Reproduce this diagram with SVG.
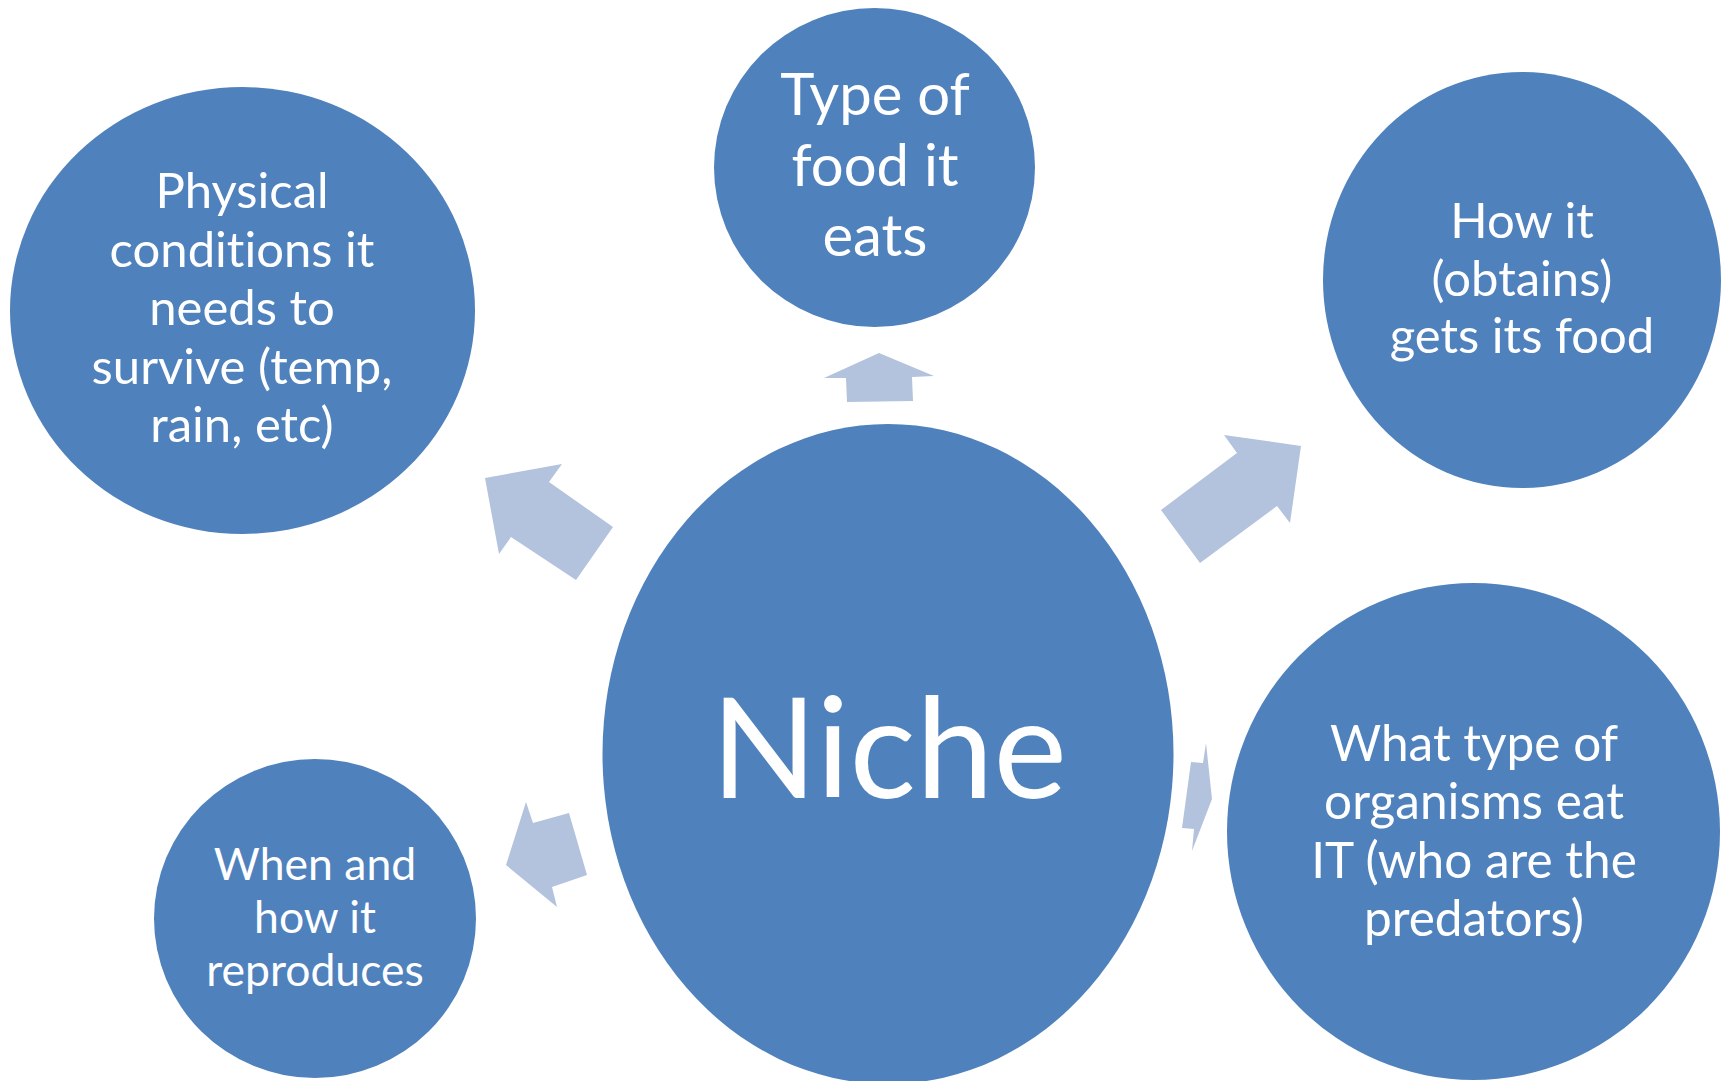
<svg xmlns="http://www.w3.org/2000/svg" width="1727" height="1081" viewBox="0 0 1727 1081">
<style>
.node{fill:#4F81BD}
.arrow{fill:#B3C2DD}
text{fill:#FFFFFF;font-family:Lato,"Noto Sans","Liberation Sans",sans-serif;text-anchor:middle;font-variant-ligatures:none;font-feature-settings:"liga" 0}
.t49{font-size:49px}
.t50{font-size:49.5px}
.t58{font-size:58px}
.t44{font-size:44.5px}
</style>
<rect width="1727" height="1081" fill="#FFFFFF"/>
<g id="connectors">
<polygon class="arrow" points="485,478 562,464 549,482 613,527 576,580 511,537 499,554"/>
<polygon class="arrow" points="879,353 934,376 912,377 913,401 847,402 846,378 824,378"/>
<polygon class="arrow" points="1301,446 1224,435 1237,453 1161,510 1200,563 1277,506 1290,523"/>
<polygon class="arrow" points="1212,799 1206,743 1203,763 1191,762 1182,828 1194,829 1192,851"/>
<polygon class="arrow" points="506,865 526,802 533,823 569,813 587,875 552,887 557,907"/>
</g>
<g id="niche">
<ellipse class="node" cx="888" cy="754" rx="285.5" ry="330"/>
<text x="889" y="798" font-size="139">Niche</text>
</g>
<g id="physical">
<ellipse class="node" cx="242.5" cy="310.5" rx="232.5" ry="223.5"/>
<text class="t49" x="242" y="208">Physical</text>
<text class="t49" x="242" y="267">conditions it</text>
<text class="t49" x="242" y="325">needs to</text>
<text class="t49" x="242" y="384">survive (temp,</text>
<text class="t49" x="242" y="442">rain, etc)</text>
</g>
<g id="food">
<ellipse class="node" cx="874.5" cy="167.5" rx="160.5" ry="159.5"/>
<text class="t58" x="875" y="115">Type of</text>
<text class="t58" x="875" y="186">food it</text>
<text class="t58" x="875" y="256">eats</text>
</g>
<g id="obtains">
<ellipse class="node" cx="1522" cy="280" rx="199" ry="208"/>
<text class="t49" x="1522" y="238">How it</text>
<text class="t49" x="1522" y="296">(obtains)</text>
<text class="t49" x="1522" y="353">gets its food</text>
</g>
<g id="predators">
<ellipse class="node" cx="1473.5" cy="831.5" rx="246.5" ry="248.5"/>
<text class="t50" x="1474" y="761">What type of</text>
<text class="t50" x="1474" y="819">organisms eat</text>
<text class="t50" x="1474" y="878">IT (who are the</text>
<text class="t50" x="1474" y="936">predators)</text>
</g>
<g id="reproduces">
<ellipse class="node" cx="315" cy="918.5" rx="161" ry="159.5"/>
<text class="t44" x="315" y="880">When and</text>
<text class="t44" x="315" y="933">how it</text>
<text class="t44" x="315" y="986">reproduces</text>
</g>
</svg>
